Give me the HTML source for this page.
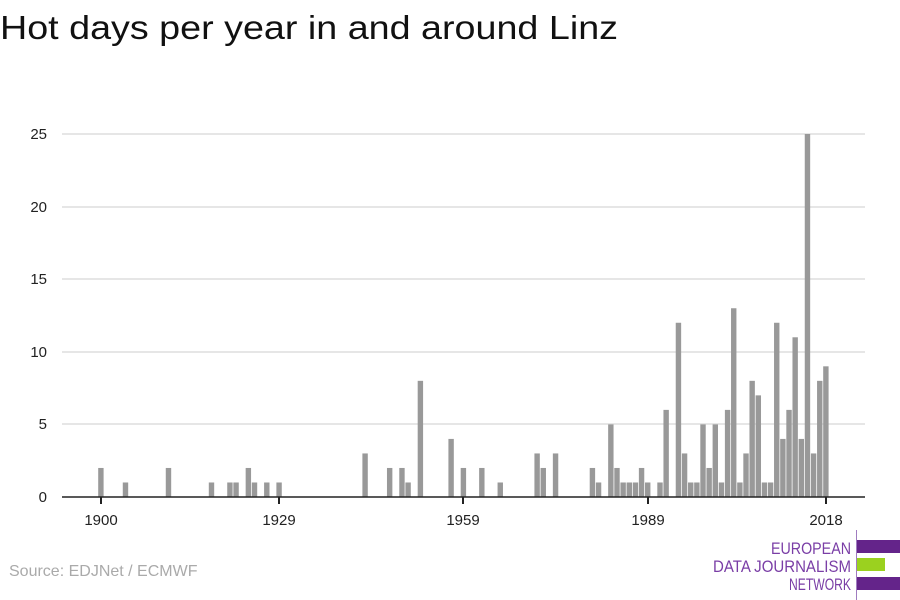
<!DOCTYPE html>
<html><head><meta charset="utf-8"><style>
body{margin:0;background:#fff;width:900px;height:600px;overflow:hidden}
svg{display:block}
text{font-family:"Liberation Sans",sans-serif}
</style></head><body>
<svg id="s" width="900" height="600" xmlns="http://www.w3.org/2000/svg">
<text x="0" y="39" font-size="33" fill="#111" textLength="618" lengthAdjust="spacingAndGlyphs">Hot days per year in and around Linz</text>
<g stroke="#dddddd" stroke-width="1.5">
<line x1="62" x2="865" y1="134" y2="134"/><line x1="62" x2="865" y1="207" y2="207"/>
<line x1="62" x2="865" y1="279" y2="279"/><line x1="62" x2="865" y1="352" y2="352"/>
<line x1="62" x2="865" y1="424" y2="424"/>
</g>
<g font-size="15" fill="#222" text-anchor="end">
<text x="47" y="139">25</text><text x="47" y="212">20</text><text x="47" y="284">15</text>
<text x="47" y="357">10</text><text x="47" y="429">5</text><text x="47" y="502">0</text>
</g>
<g id="bars" fill="#999999"></g>
<line x1="62" x2="865" y1="497" y2="497" stroke="#222" stroke-width="1.5"/>
<g stroke="#222" stroke-width="2">
<line x1="101" x2="101" y1="497" y2="504"/><line x1="279" x2="279" y1="497" y2="504"/>
<line x1="463" x2="463" y1="497" y2="504"/><line x1="648" x2="648" y1="497" y2="504"/>
<line x1="826" x2="826" y1="497" y2="504"/>
</g>
<g font-size="15" fill="#222" text-anchor="middle">
<text x="101" y="525">1900</text><text x="279" y="525">1929</text><text x="463" y="525">1959</text>
<text x="648" y="525">1989</text><text x="826" y="525">2018</text>
</g>
<text x="9" y="576" font-size="16" fill="#aaa">Source: EDJNet / ECMWF</text>
<line x1="856.5" x2="856.5" y1="530" y2="600" stroke="#a07cc0" stroke-width="1"/>
<rect x="857" y="540" width="43" height="13" fill="#64248a"/>
<rect x="857" y="558" width="28" height="13" fill="#9bd11f"/>
<rect x="857" y="577" width="43" height="13" fill="#64248a"/>
<g font-size="17" fill="#7a3ea6" text-anchor="end">
<text x="851" y="554" textLength="80" lengthAdjust="spacingAndGlyphs">EUROPEAN</text>
<text x="851" y="572" textLength="138" lengthAdjust="spacingAndGlyphs">DATA JOURNALISM</text>
<text x="851" y="590" textLength="62" lengthAdjust="spacingAndGlyphs">NETWORK</text>
</g>
</svg>
<script>
var d={1900:2,1904:1,1911:2,1918:1,1921:1,1922:1,1924:2,1925:1,1927:1,1929:1,1943:3,1947:2,1949:2,1950:1,1952:8,1957:4,1959:2,1962:2,1965:1,1971:3,1972:2,1974:3,1980:2,1981:1,1983:5,1984:2,1985:1,1986:1,1987:1,1988:2,1989:1,1991:1,1992:6,1994:12,1995:3,1996:1,1997:1,1998:5,1999:2,2000:5,2001:1,2002:6,2003:13,2004:1,2005:3,2006:8,2007:7,2008:1,2009:1,2010:12,2011:4,2012:6,2013:11,2014:4,2015:25,2016:3,2017:8,2018:9};
var g=document.getElementById('bars'),h='';
for(var y in d){var x=101+(y-1900)*6.144-2.8,v=d[y]*14.52;
h+='<rect x="'+x.toFixed(2)+'" y="'+(497-v).toFixed(2)+'" width="5.4" height="'+v.toFixed(2)+'"/>';}
g.innerHTML=h;
</script>
</body></html>
